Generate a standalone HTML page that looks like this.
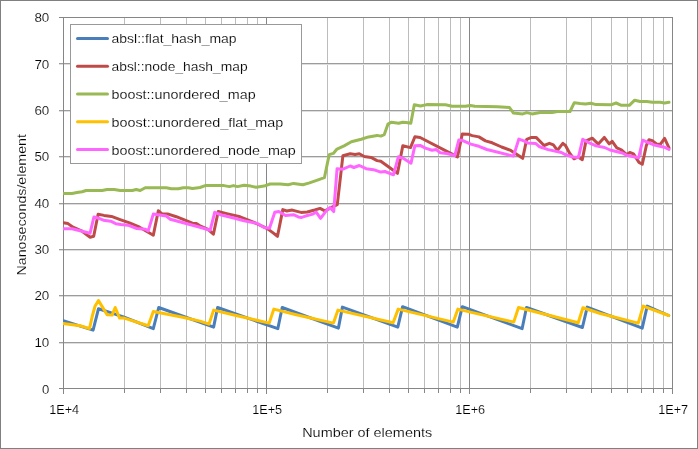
<!DOCTYPE html>
<html><head><meta charset="utf-8"><title>chart</title>
<style>
html,body{margin:0;padding:0;background:#fff;}
body{width:698px;height:449px;overflow:hidden;position:relative;font-family:"Liberation Sans",sans-serif;}
</style></head><body>
<svg width="698" height="449" viewBox="0 0 698 449" style="display:block;position:absolute;left:0;top:0;will-change:transform">
<rect x="0" y="0" width="698" height="449" fill="#fff"/>
<rect x="0.5" y="0.5" width="697" height="448" fill="none" stroke="#808080" stroke-width="1"/>
<g stroke="#bcbcbc" stroke-width="1" shape-rendering="crispEdges">
<line x1="124.5" y1="17.5" x2="124.5" y2="388.5"/>
<line x1="160.5" y1="17.5" x2="160.5" y2="388.5"/>
<line x1="186.5" y1="17.5" x2="186.5" y2="388.5"/>
<line x1="205.5" y1="17.5" x2="205.5" y2="388.5"/>
<line x1="221.5" y1="17.5" x2="221.5" y2="388.5"/>
<line x1="235.5" y1="17.5" x2="235.5" y2="388.5"/>
<line x1="247.5" y1="17.5" x2="247.5" y2="388.5"/>
<line x1="257.5" y1="17.5" x2="257.5" y2="388.5"/>
<line x1="327.5" y1="17.5" x2="327.5" y2="388.5"/>
<line x1="363.5" y1="17.5" x2="363.5" y2="388.5"/>
<line x1="389.5" y1="17.5" x2="389.5" y2="388.5"/>
<line x1="408.5" y1="17.5" x2="408.5" y2="388.5"/>
<line x1="424.5" y1="17.5" x2="424.5" y2="388.5"/>
<line x1="438.5" y1="17.5" x2="438.5" y2="388.5"/>
<line x1="450.5" y1="17.5" x2="450.5" y2="388.5"/>
<line x1="460.5" y1="17.5" x2="460.5" y2="388.5"/>
<line x1="530.5" y1="17.5" x2="530.5" y2="388.5"/>
<line x1="566.5" y1="17.5" x2="566.5" y2="388.5"/>
<line x1="591.5" y1="17.5" x2="591.5" y2="388.5"/>
<line x1="611.5" y1="17.5" x2="611.5" y2="388.5"/>
<line x1="627.5" y1="17.5" x2="627.5" y2="388.5"/>
<line x1="641.5" y1="17.5" x2="641.5" y2="388.5"/>
<line x1="653.5" y1="17.5" x2="653.5" y2="388.5"/>
<line x1="663.5" y1="17.5" x2="663.5" y2="388.5"/>
</g>
<g stroke-width="1" shape-rendering="crispEdges">
<line x1="59.0" y1="17.5" x2="672.5" y2="17.5" stroke="#868686"/>
<line x1="59.0" y1="63.5" x2="672.5" y2="63.5" stroke="#9c9c9c"/>
<line x1="59.0" y1="64.5" x2="672.5" y2="64.5" stroke="#dedede"/>
<line x1="59.0" y1="110.5" x2="672.5" y2="110.5" stroke="#9c9c9c"/>
<line x1="59.0" y1="111.5" x2="672.5" y2="111.5" stroke="#dedede"/>
<line x1="59.0" y1="156.5" x2="672.5" y2="156.5" stroke="#9c9c9c"/>
<line x1="59.0" y1="157.5" x2="672.5" y2="157.5" stroke="#dedede"/>
<line x1="59.0" y1="203.5" x2="672.5" y2="203.5" stroke="#9c9c9c"/>
<line x1="59.0" y1="204.5" x2="672.5" y2="204.5" stroke="#dedede"/>
<line x1="59.0" y1="249.5" x2="672.5" y2="249.5" stroke="#9c9c9c"/>
<line x1="59.0" y1="250.5" x2="672.5" y2="250.5" stroke="#dedede"/>
<line x1="59.0" y1="295.5" x2="672.5" y2="295.5" stroke="#9c9c9c"/>
<line x1="59.0" y1="296.5" x2="672.5" y2="296.5" stroke="#dedede"/>
<line x1="59.0" y1="342.5" x2="672.5" y2="342.5" stroke="#9c9c9c"/>
<line x1="59.0" y1="343.5" x2="672.5" y2="343.5" stroke="#dedede"/>
<line x1="59.0" y1="388.5" x2="672.5" y2="388.5" stroke="#868686"/>
</g>
<g stroke="#868686" stroke-width="1" shape-rendering="crispEdges">
<line x1="63.5" y1="17.5" x2="63.5" y2="393.5"/>
<line x1="266.5" y1="17.5" x2="266.5" y2="393.5"/>
<line x1="469.5" y1="17.5" x2="469.5" y2="393.5"/>
<line x1="672.5" y1="17.5" x2="672.5" y2="393.5"/>
<line x1="124.5" y1="388.5" x2="124.5" y2="392.5"/>
<line x1="160.5" y1="388.5" x2="160.5" y2="392.5"/>
<line x1="186.5" y1="388.5" x2="186.5" y2="392.5"/>
<line x1="205.5" y1="388.5" x2="205.5" y2="392.5"/>
<line x1="221.5" y1="388.5" x2="221.5" y2="392.5"/>
<line x1="235.5" y1="388.5" x2="235.5" y2="392.5"/>
<line x1="247.5" y1="388.5" x2="247.5" y2="392.5"/>
<line x1="257.5" y1="388.5" x2="257.5" y2="392.5"/>
<line x1="327.5" y1="388.5" x2="327.5" y2="392.5"/>
<line x1="363.5" y1="388.5" x2="363.5" y2="392.5"/>
<line x1="389.5" y1="388.5" x2="389.5" y2="392.5"/>
<line x1="408.5" y1="388.5" x2="408.5" y2="392.5"/>
<line x1="424.5" y1="388.5" x2="424.5" y2="392.5"/>
<line x1="438.5" y1="388.5" x2="438.5" y2="392.5"/>
<line x1="450.5" y1="388.5" x2="450.5" y2="392.5"/>
<line x1="460.5" y1="388.5" x2="460.5" y2="392.5"/>
<line x1="530.5" y1="388.5" x2="530.5" y2="392.5"/>
<line x1="566.5" y1="388.5" x2="566.5" y2="392.5"/>
<line x1="591.5" y1="388.5" x2="591.5" y2="392.5"/>
<line x1="611.5" y1="388.5" x2="611.5" y2="392.5"/>
<line x1="627.5" y1="388.5" x2="627.5" y2="392.5"/>
<line x1="641.5" y1="388.5" x2="641.5" y2="392.5"/>
<line x1="653.5" y1="388.5" x2="653.5" y2="392.5"/>
<line x1="663.5" y1="388.5" x2="663.5" y2="392.5"/>
</g>
<defs><clipPath id="pc"><rect x="63" y="10" width="612" height="385"/></clipPath></defs>
<g clip-path="url(#pc)">
<polyline fill="none" stroke="#4a7ebb" stroke-width="3" stroke-linejoin="round" stroke-linecap="round" points="63.2,320.7 93.1,330.1 98.5,308.7 124.2,317.1 153.3,328.7 158.7,307.5 213.6,327.1 217.6,307.5 277.8,328.7 282.2,307.5 338.4,328.1 342.4,307.1 397.8,327.1 402.6,306.7 457.3,327.1 462.3,306.7 522.1,328.7 526.5,307.5 582.4,327.5 587.2,307.1 642.2,328.1 647.2,306.1 668.7,315.5"/>
<polyline fill="none" stroke="#be4b48" stroke-width="3" stroke-linejoin="round" stroke-linecap="round" points="63.2,222.8 68.0,223.6 73.0,227.2 82.1,231.2 90.1,237.2 93.7,236.2 98.1,214.3 104,215.4 111.5,216.4 120.8,219.8 129.5,222.8 139.6,227.2 148.2,232.2 153.3,235.2 158.3,210.7 162.3,214.1 168.3,214.1 176.3,216.7 192.4,223.2 196.4,223.6 200,225.8 208,229.4 213.4,234.2 218.2,211.5 226.7,213.6 240.1,216.8 253.4,222.2 266.8,228.3 272.1,232.1 277.5,236.3 282.8,209.6 286.8,211.0 292.2,210.1 301.0,212.4 307.3,212.0 314.7,210.0 320.1,208.4 324.8,210.8 329.4,208.6 333.1,206.6 337.3,204.7 342.9,155.7 350.2,153.8 355.1,154.5 359.3,153.8 364.2,156.5 371.0,157.4 377.1,160.6 380.8,161.3 397.5,173.3 402.8,145.7 410.5,147.6 414.9,136.7 420.1,137.5 457.5,156.9 462.3,134.0 468.2,134.2 472.2,135.6 478.9,136.9 485.5,140.9 492.2,142.8 501.6,147.0 510.8,150.4 522.7,158.3 526.7,139.3 531.5,137.4 536.1,137.4 544.1,145.5 549.4,143.3 553.4,144.9 557.4,150.3 562.8,143.3 565.5,145.5 569.5,153.0 574,158.8 578,157.0 582.3,159.6 586.0,140.9 592.2,138.2 598.3,144.1 604.3,137.4 609.2,143.8 612.2,141.3 616.8,147.8 621.4,149.8 626.6,154.7 629.8,152.5 633.5,153.9 639.0,162.4 642.3,164.2 646.3,145.7 649.0,139.7 652.3,140.6 656.8,144.1 660.1,144.6 664.6,138.4 669.0,147.9"/>
<polyline fill="none" stroke="#98b954" stroke-width="3" stroke-linejoin="round" stroke-linecap="round" points="63.2,193.6 72,193.4 77,192.6 82.1,191.7 86.1,190.5 102.1,190.5 107.1,189.5 114.2,189.5 120.2,190.5 132.2,190.5 136.2,189.5 140.2,190.5 145.2,187.7 166.3,187.7 171.3,188.7 178.3,188.7 183.3,187.7 188.4,187.7 192.4,188.5 196.4,187.9 200,187.5 205.3,185.6 224,185.6 229.4,186.6 233.4,185.6 237.4,186.6 244.1,185.3 250.8,186.1 256.1,187.2 264.1,186.1 270,184.0 280.1,184.0 288.2,184.8 293.5,183.4 302.9,184.8 309.5,182.9 317.4,180.1 324.4,177.7 329.2,154.6 333.3,153.4 337.0,149.1 344.1,145.9 351.4,141.8 361.2,139.3 368.6,136.9 377.1,135.4 380.8,136.1 384.3,134.6 388,124.1 391.2,122.2 398.7,123.3 402.7,122.2 406,122.6 410.8,123.2 414.3,104.7 420.5,106.0 426.8,104.6 445.5,104.8 452.1,106.2 465.5,106.2 470.3,105.4 474.8,106.2 497.6,106.7 509.5,107.5 513.5,113.1 522.7,113.9 526.7,112.6 532.1,113.9 540.1,112.6 552.1,112.6 557.4,111.5 570,111.5 574.3,102.7 580.1,103.5 585.5,104.0 590.8,103.2 596.2,104.6 610.9,104.8 616.1,103.0 621.4,105.3 629.3,105.3 634.7,100.2 640.1,101.5 646.8,101.6 652.3,102.3 660.1,102.3 664.6,102.9 669.0,102.3"/>
<polyline fill="none" stroke="#ffc000" stroke-width="3" stroke-linejoin="round" stroke-linecap="round" points="63.2,323.5 80.1,325.7 89.5,328.6 92.3,316.0 95.1,306.0 98.5,300.6 103.1,308.1 107.1,314.7 112.1,315.1 115.2,307.5 119.6,318.1 124.2,318.1 148.2,325.7 153.3,311.5 180.3,316.7 200,321.1 209.0,324.1 213.6,310.1 236.1,315.5 269.2,323.1 273.8,309.1 296.3,314.7 333.4,323.1 338.0,310.1 393.1,322.7 398.2,309.1 453.3,322.1 457.9,309.1 470.4,312.1 513.7,322.1 518.5,307.5 578.2,322.7 582.9,307.8 600.3,313.5 638.2,323.1 643.2,306.1 668.7,315.5"/>
<polyline fill="none" stroke="#ff66ff" stroke-width="3" stroke-linejoin="round" stroke-linecap="round" points="63.2,228.8 72.0,228.8 80.1,230.8 90.1,233.2 93.9,217.0 99.1,218.3 103.4,220.2 110.7,221.2 115.7,223.7 120.8,224.6 128.0,225.2 136.7,228.5 145.4,229.3 148.2,230.9 153.3,214.1 166.3,216.1 170.3,219.2 200,227.2 210.2,230.2 214.7,212.3 221.4,215.0 234.7,218.2 244.1,220.8 257.4,223.5 264.1,227.5 269.5,228.3 274.8,212.3 278.8,211.5 285.5,215.5 293.5,214.7 298.3,216.9 301.6,217.4 306.3,215.8 313.0,214.1 316.2,212.1 320.6,218.3 326.0,211.2 330.1,207.4 333.7,211.6 337.1,168.7 342.9,169.2 350.2,166.0 353.9,167.5 359.3,165.5 366.1,168.7 373.5,169.7 380.8,172.1 384.9,171.5 393.5,174.8 398.4,156.7 402.8,158.1 411.0,163.2 414.9,145.7 420.1,145.4 425.4,148.1 432.1,150.3 436.1,149.5 440.1,152.7 446.8,153.5 454.8,155.6 458.8,140.1 462.8,140.6 470.8,144.1 478.9,146.3 486.9,149.5 513.5,156.1 518.8,139.1 524,140.9 527.6,142.9 535.6,143.4 539.6,146.8 548.2,149.6 561.4,152.5 565.4,154.6 572.9,157.0 578.4,157.4 582.7,139.3 588.2,142.4 596.1,145.9 604.6,147.5 610.1,150.0 622.3,153.0 626.5,155.2 638.7,157.7 642.7,140.2 647.2,142.1 653.3,144.7 664.3,147.2 669.0,149.4"/>
</g>
<rect x="70.5" y="24.5" width="231" height="139" fill="#fff" stroke="#999999" stroke-width="1" shape-rendering="crispEdges"/>
<g font-family="'Liberation Sans', sans-serif" font-size="12.2" fill="#000" stroke="#fff" stroke-width="0.15">
<line x1="77.5" y1="38.50" x2="107.5" y2="38.50" stroke="#4a7ebb" stroke-width="3" stroke-linecap="round"/>
<text x="111.5" y="43.00" font-size="12.5" textLength="125.1" lengthAdjust="spacingAndGlyphs">absl::flat_hash_map</text>
<line x1="77.5" y1="66.25" x2="107.5" y2="66.25" stroke="#be4b48" stroke-width="3" stroke-linecap="round"/>
<text x="111.5" y="70.88" font-size="12.5" textLength="136.1" lengthAdjust="spacingAndGlyphs">absl::node_hash_map</text>
<line x1="77.5" y1="94.00" x2="107.5" y2="94.00" stroke="#98b954" stroke-width="3" stroke-linecap="round"/>
<text x="111.5" y="98.75" font-size="12.5" textLength="144.2" lengthAdjust="spacingAndGlyphs">boost::unordered_map</text>
<line x1="77.5" y1="121.75" x2="107.5" y2="121.75" stroke="#ffc000" stroke-width="3" stroke-linecap="round"/>
<text x="111.5" y="126.62" font-size="12.5" textLength="171.8" lengthAdjust="spacingAndGlyphs">boost::unordered_flat_map</text>
<line x1="77.5" y1="149.50" x2="107.5" y2="149.50" stroke="#ff66ff" stroke-width="3" stroke-linecap="round"/>
<text x="111.5" y="154.50" font-size="12.5" textLength="184.3" lengthAdjust="spacingAndGlyphs">boost::unordered_node_map</text>
<text x="49.3" y="393.80" text-anchor="end" textLength="7.3" lengthAdjust="spacingAndGlyphs">0</text>
<text x="49.3" y="347.43" text-anchor="end" textLength="14.9" lengthAdjust="spacingAndGlyphs">10</text>
<text x="49.3" y="300.45" text-anchor="end" textLength="14.9" lengthAdjust="spacingAndGlyphs">20</text>
<text x="49.3" y="253.78" text-anchor="end" textLength="14.9" lengthAdjust="spacingAndGlyphs">30</text>
<text x="49.3" y="207.95" text-anchor="end" textLength="14.9" lengthAdjust="spacingAndGlyphs">40</text>
<text x="49.3" y="161.03" text-anchor="end" textLength="14.9" lengthAdjust="spacingAndGlyphs">50</text>
<text x="49.3" y="114.75" text-anchor="end" textLength="14.9" lengthAdjust="spacingAndGlyphs">60</text>
<text x="49.3" y="69.08" text-anchor="end" textLength="14.9" lengthAdjust="spacingAndGlyphs">70</text>
<text x="49.3" y="22.20" text-anchor="end" textLength="14.9" lengthAdjust="spacingAndGlyphs">80</text>
<text x="64.20" y="413.8" text-anchor="middle" textLength="30.0" lengthAdjust="spacingAndGlyphs">1E+4</text>
<text x="267.20" y="413.8" text-anchor="middle" textLength="30.0" lengthAdjust="spacingAndGlyphs">1E+5</text>
<text x="470.20" y="413.8" text-anchor="middle" textLength="30.0" lengthAdjust="spacingAndGlyphs">1E+6</text>
<text x="673.20" y="413.8" text-anchor="middle" textLength="30.0" lengthAdjust="spacingAndGlyphs">1E+7</text>
<text x="367.2" y="437" font-size="12.5" text-anchor="middle" textLength="130" lengthAdjust="spacingAndGlyphs">Number of elements</text>
<text transform="translate(25.6,204.8) rotate(-90)" font-size="12.5" text-anchor="middle" textLength="141.5" lengthAdjust="spacingAndGlyphs">Nanoseconds/element</text>
</g>
</svg>
</body></html>
